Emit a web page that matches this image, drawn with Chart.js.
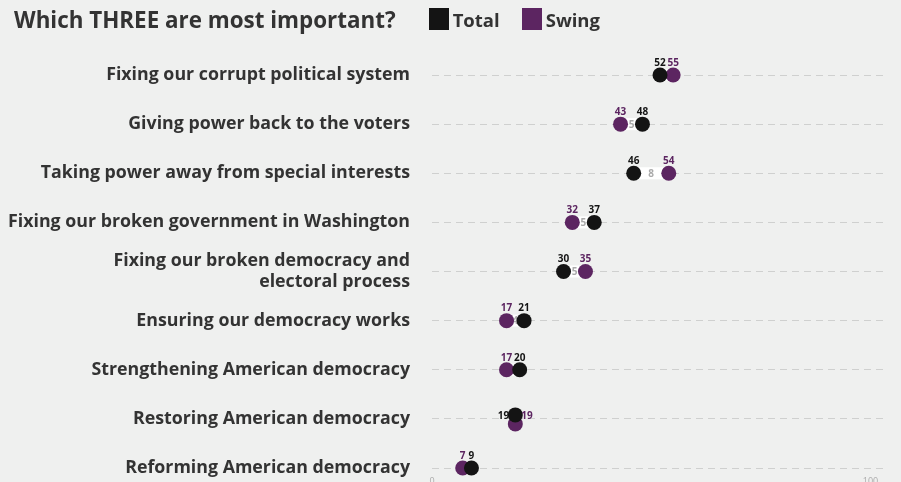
<!DOCTYPE html>
<html>
<head>
<meta charset="utf-8">
<script src="https://cdn.jsdelivr.net/npm/chart.js@4.4.1/dist/chart.umd.min.js"></script>
<style>
  html, body { margin: 0; padding: 0; background: #eff0ef; }
  #wrap { position: relative; width: 901px; height: 482px; }
  #head { position: absolute; left: 14px; top: 4px; height: 30px; display: flex; align-items: center;
          font-family: "Open Sans", sans-serif; font-weight: 700; color: #333; white-space: nowrap; }
  #head .title { font-size: 22.4px; margin-right: 33px; }
  #head .key { display: flex; align-items: center; font-size: 18.5px; margin-right: 22px; }
  #head .sw { width: 20px; height: 22px; margin-right: 4px; }
  canvas { position: absolute; left: 0; top: 0; }
</style>
</head>
<body>
<div id="wrap">
  <canvas id="myChart" width="901" height="482"></canvas>
  <div id="head">
    <span class="title">Which THREE are most important?</span>
    <span class="key"><span class="sw" style="background:#141414"></span>Total</span>
    <span class="key"><span class="sw" style="background:#5c2561"></span>Swing</span>
  </div>
</div>
<script>
var Categories = [
    "Fixing our corrupt political system",
    "Giving power back to the voters",
    "Taking power away from special interests",
    "Fixing our broken government in Washington",
    ["Fixing our broken democracy and", "electoral process"],
    "Ensuring our democracy works",
    "Strengthening American democracy",
    "Restoring American democracy",
    "Reforming American democracy"
];
var TotalValues = [52, 48, 46, 37, 30, 21, 20, 19, 9];
var SwingValues = [55, 43, 54, 32, 35, 17, 17, 19, 7];
var XTicks = [0, 100];

var TotalColor = '#141414';
var SwingColor = '#5c2561';
var LabelFont = '"Open Sans", sans-serif';

// white bar with the gap number between the two dots, plus value labels
const dumbbell = {
    id: 'dumbbell',
    afterDatasetsUpdate(chart) {
        var tot = chart.getDatasetMeta(0).data;
        var sw = chart.getDatasetMeta(1).data;
        for (var i = 0; i < TotalValues.length; i++) {
            if (TotalValues[i] === SwingValues[i]) {
                // nudge tied dots apart so both stay visible
                tot[i].y -= 4;
                sw[i].y += 5;
            }
        }
    },
    beforeDatasetsDraw(chart) {
        var ctx = chart.ctx;
        var tot = chart.getDatasetMeta(0).data;
        var sw = chart.getDatasetMeta(1).data;
        ctx.save();
        for (var i = 0; i < TotalValues.length; i++) {
            var gap = Math.abs(TotalValues[i] - SwingValues[i]);
            if (gap === 0) continue;
            var a = Math.min(tot[i].x, sw[i].x);
            var b = Math.max(tot[i].x, sw[i].x);
            var y = tot[i].y;
            ctx.fillStyle = '#ffffff';
            ctx.fillRect(a, y - 6, b - a, 12);
            ctx.fillStyle = '#aaaaaa';
            ctx.font = 'bold 10px ' + LabelFont;
            ctx.textAlign = 'center';
            ctx.textBaseline = 'middle';
            ctx.fillText(gap, (a + b) / 2, y + 1);
        }
        ctx.restore();
    },
    afterDatasetsDraw(chart) {
        var ctx = chart.ctx;
        var tot = chart.getDatasetMeta(0).data;
        var sw = chart.getDatasetMeta(1).data;
        ctx.save();
        ctx.font = 'bold 10px ' + LabelFont;
        ctx.textBaseline = 'middle';
        for (var i = 0; i < TotalValues.length; i++) {
            if (TotalValues[i] === SwingValues[i]) {
                var y = tot[i].y;
                ctx.textAlign = 'right';
                ctx.fillStyle = TotalColor;
                ctx.fillText(TotalValues[i], tot[i].x - 6, y + 1);
                ctx.textAlign = 'left';
                ctx.fillStyle = SwingColor;
                ctx.fillText(SwingValues[i], sw[i].x + 6, y + 1);
                continue;
            }
            ctx.textAlign = 'center';
            ctx.fillStyle = TotalColor;
            ctx.fillText(TotalValues[i], tot[i].x, tot[i].y - 12);
            ctx.fillStyle = SwingColor;
            ctx.fillText(SwingValues[i], sw[i].x, sw[i].y - 12);
        }
        ctx.restore();
    }
};

const ctx = document.getElementById('myChart');
const myChart = new Chart(ctx, {
    type: 'line',
    data: {
        labels: Categories,
        datasets: [{
            label: 'Total',
            data: TotalValues,
            backgroundColor: TotalColor,
            borderColor: TotalColor,
            pointRadius: 7.5,
            pointBorderWidth: 0,
            showLine: false,
            clip: false
        }, {
            label: 'Swing',
            data: SwingValues,
            backgroundColor: SwingColor,
            borderColor: SwingColor,
            pointRadius: 7.5,
            pointBorderWidth: 0,
            showLine: false,
            clip: false
        }]
    },
    options: {
        indexAxis: 'y',
        responsive: false,
        animation: false,
        layout: { padding: { top: 75, right: 13, bottom: 0, left: 0 } },
        plugins: {
            legend: { display: false },
            tooltip: { enabled: false }
        },
        scales: {
            x: {
                type: 'linear',
                min: 0,
                max: 104,
                afterBuildTicks: function (scale) {
                    scale.ticks = XTicks.map(function (v) { return { value: v }; });
                },
                afterFit: function (scale) {
                    scale.height = 14;
                    scale.paddingLeft = 0;
                    scale.paddingRight = 0;
                },
                grid: { display: false },
                border: { display: false },
                ticks: {
                    padding: 0,
                    maxRotation: 0,
                    color: '#aaaaaa',
                    font: { family: 'Open Sans', size: 9 }
                }
            },
            y: {
                type: 'category',
                offset: false,
                afterFit: function (scale) {
                    scale.width = 432;
                    scale.paddingTop = 0;
                    scale.paddingBottom = 0;
                },
                grid: {
                    color: '#cfd0cf',
                    lineWidth: 1,
                    drawTicks: false
                },
                border: { display: false, dash: [7, 5] },
                ticks: {
                    padding: 22,
                    color: '#333333',
                    font: { family: 'Open Sans', size: 17.8, weight: 'bold', lineHeight: 1.2 }
                }
            }
        }
    },
    plugins: [dumbbell]
});
</script>
</body>
</html>
